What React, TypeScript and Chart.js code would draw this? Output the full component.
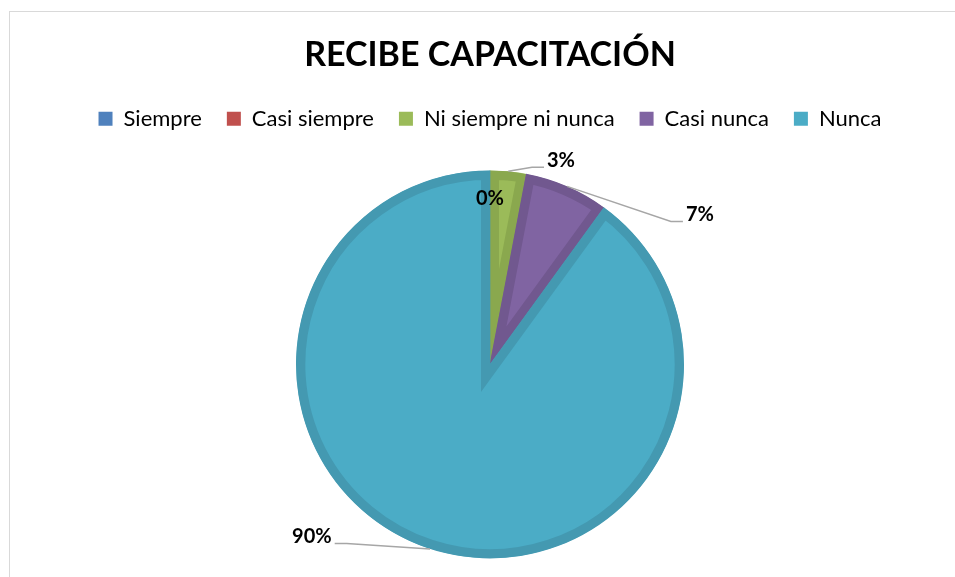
import React, { useEffect, useRef } from "react";
import { Chart, registerables, layouts } from "chart.js";

Chart.register(...registerables);

const chartTitle = "RECIBE CAPACITACIÓN";
const categories = ["Siempre", "Casi siempre", "Ni siempre ni nunca", "Casi nunca", "Nunca"];
const percentages = [0, 0, 3, 7, 90];
const fillColors = ["#4F81BD", "#C0504D", "#9BBB59", "#8064A2", "#4BACC6"];
const edgeColors = ["#3F6CA3", "#A8423F", "#8AA84E", "#71588F", "#4499B1"];

const FONT = "Lato";

// label centre offsets relative to pie centre, in units of radius; third item = draw leader
const labelOffsets: [number, number, boolean][] = [
  [0, -0.856, false],
  [0, -0.856, false],
  [0.366, -1.052, true],
  [1.082, -0.773, true],
  [-0.918, 0.887, true],
];

const framePlugin = {
  id: "frame",
  beforeDraw(chart: any) {
    const ctx = chart.ctx;
    ctx.save();
    ctx.fillStyle = "#ffffff";
    ctx.fillRect(0, 0, chart.width, chart.height);
    ctx.strokeStyle = "#D9D9D9";
    ctx.lineWidth = 1;
    ctx.strokeRect(9.5, 11.5, chart.width + 20, chart.height + 20);
    ctx.restore();
  },
};

// empty layout box between legend and pie
const spacerPlugin = {
  id: "spacer",
  beforeInit(chart: any) {
    const box: any = {
      position: "top",
      weight: 0,
      fullSize: true,
      options: {},
      top: 0,
      left: 0,
      right: 0,
      bottom: 0,
      width: 0,
      height: 0,
      update(maxWidth: number) {
        this.width = maxWidth;
        this.height = 12;
      },
      isHorizontal() {
        return true;
      },
      getPadding() {
        return { top: 0, left: 0, right: 0, bottom: 0 };
      },
      draw() {},
    };
    layouts.addBox(chart, box);
  },
};

const labelPlugin = {
  id: "sliceLabels",
  afterDatasetsDraw(chart: any) {
    const meta = chart.getDatasetMeta(0);
    const ctx = chart.ctx;
    const drawn = new Set<string>();
    ctx.save();
    ctx.font = `bold 20px ${FONT}`;
    ctx.textAlign = "center";
    ctx.textBaseline = "middle";
    meta.data.forEach((arc: any, i: number) => {
      const off = labelOffsets[i];
      if (!off) return;
      const { x, y, startAngle, endAngle, outerRadius } = arc.getProps(
        ["x", "y", "startAngle", "endAngle", "outerRadius"],
        true
      );
      const text = `${percentages[i]}%`;
      const lx = x + off[0] * outerRadius;
      const ly = y + off[1] * outerRadius;
      const key = `${text}_${Math.round(lx)}_${Math.round(ly)}`;
      if (drawn.has(key)) return;
      drawn.add(key);
      const w = ctx.measureText(text).width;
      if (off[2]) {
        const mid = (startAngle + endAngle) / 2;
        const ax = x + Math.cos(mid) * outerRadius;
        const ay = y + Math.sin(mid) * outerRadius;
        const side = lx > x ? -1 : 1;
        const endX = lx + side * (w / 2 + 3);
        const lineY = ly + 7;
        const elbowX = endX + side * 12;
        ctx.strokeStyle = "#A6A6A6";
        ctx.lineWidth = 1.5;
        ctx.beginPath();
        ctx.moveTo(ax, ay);
        ctx.lineTo(elbowX, lineY);
        ctx.lineTo(endX, lineY);
        ctx.stroke();
      }
      ctx.fillStyle = "#000000";
      ctx.fillText(text, lx, ly);
    });
    ctx.restore();
  },
};

function PieChart() {
  const canvasRef = useRef<HTMLCanvasElement | null>(null);

  useEffect(() => {
    if (!canvasRef.current) return;
    const chart = new Chart(canvasRef.current, {
      type: "pie",
      data: {
        labels: categories,
        datasets: [
          {
            data: percentages,
            backgroundColor: fillColors,
            borderColor: edgeColors,
            borderWidth: 9,
            borderAlign: "inner",
            borderJoinStyle: "miter",
            radius: 194,
          } as any,
        ],
      },
      options: {
        responsive: false,
        animation: false,
        layout: { padding: { left: 40, right: 15, top: 0, bottom: 0 } },
        plugins: {
          title: {
            display: true,
            text: chartTitle,
            color: "#000000",
            font: { family: FONT, size: 34, weight: "bold" },
            padding: { top: 35, bottom: 7 },
          },
          legend: {
            display: true,
            position: "top",
            labels: {
              boxWidth: 14,
              boxHeight: 14,
              padding: 25,
              color: "#000000",
              font: { family: FONT, size: 22 },
              generateLabels: () =>
                categories.map((c, i) => ({
                  text: c,
                  fillStyle: fillColors[i],
                  strokeStyle: fillColors[i],
                  lineWidth: 0,
                  hidden: false,
                  index: i,
                })),
            },
          },
          tooltip: { enabled: false },
        },
      } as any,
      plugins: [framePlugin, spacerPlugin, labelPlugin],
    });
    return () => chart.destroy();
  }, []);

  return <canvas ref={canvasRef} width={955} height={577} style={{ display: "block" }} />;
}

export default function App() {
  return (
    <div style={{ position: "absolute", left: 0, top: 0, width: 955, height: 577, background: "#fff" }}>
      <PieChart />
    </div>
  );
}
